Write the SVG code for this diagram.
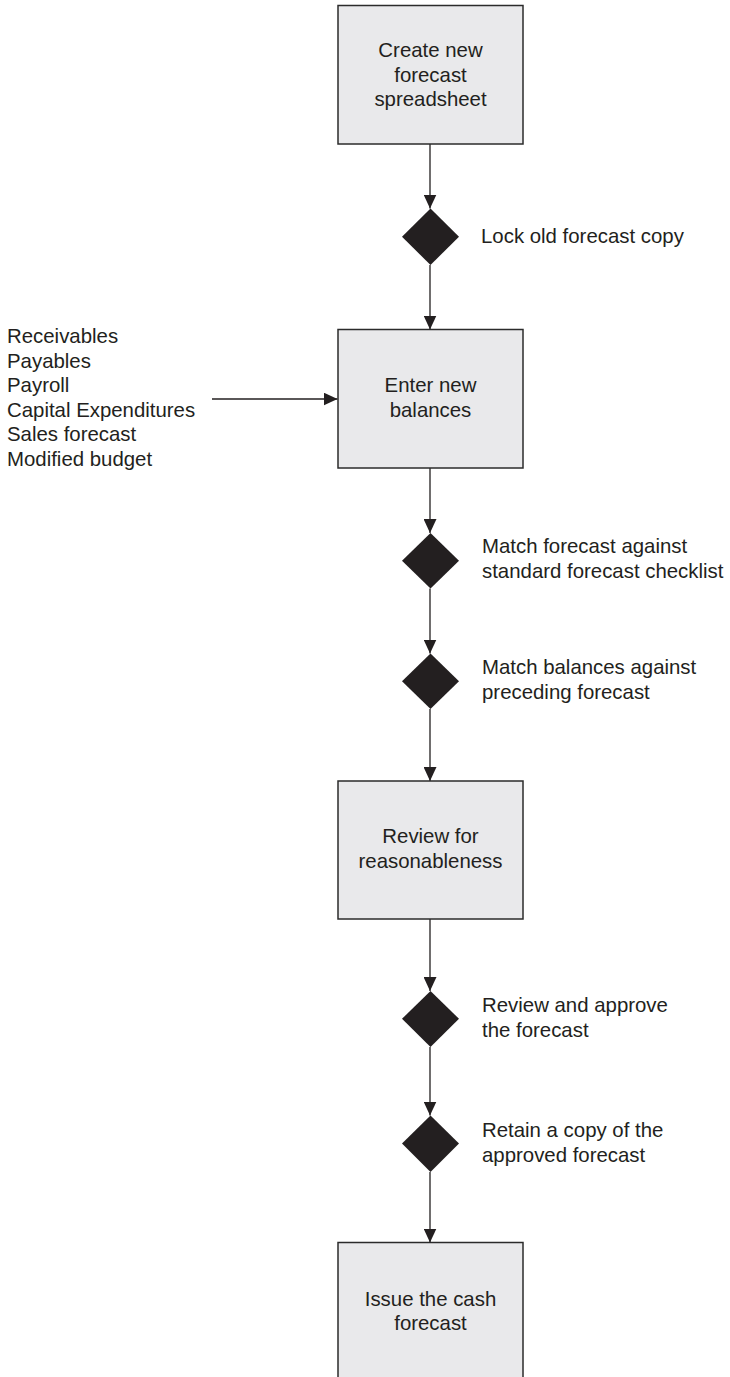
<svg xmlns="http://www.w3.org/2000/svg" width="730" height="1377" viewBox="0 0 730 1377">
<defs>
<style>
.box{fill:#e9e9eb;stroke:#2b2b2b;stroke-width:1.5}
.dia{fill:#231f20;stroke:none}
.t{font-family:"Liberation Sans",Arial,sans-serif;font-size:20.4px;fill:#231f20}
.c{text-anchor:middle}
.ln{stroke:#231f20;stroke-width:1.3;fill:none;marker-end:url(#ah)}
</style>
<marker id="ah" markerUnits="userSpaceOnUse" markerWidth="14" markerHeight="13" viewBox="0 0 14 13" refX="14" refY="6.5" orient="auto">
<path d="M0,0 L14,6.5 L0,13 z" fill="#231f20"/>
</marker>
</defs>
<rect width="730" height="1377" fill="#ffffff"/>
<g id="connectors">
<line class="ln" x1="430" y1="144" x2="430" y2="208.5"/>
<line class="ln" x1="430" y1="265" x2="430" y2="329.5"/>
<line class="ln" x1="212" y1="399" x2="337.5" y2="399"/>
<line class="ln" x1="430" y1="468" x2="430" y2="533"/>
<line class="ln" x1="430" y1="588.5" x2="430" y2="653.5"/>
<line class="ln" x1="430" y1="709" x2="430" y2="781"/>
<line class="ln" x1="430" y1="919" x2="430" y2="991"/>
<line class="ln" x1="430" y1="1047" x2="430" y2="1115.5"/>
<line class="ln" x1="430" y1="1172" x2="430" y2="1242.5"/>
</g>
<g id="box-create">
<rect class="box" x="338" y="5.5" width="185" height="138.5"/>
<text class="t c" x="430.5" y="57">Create new</text>
<text class="t c" x="430.5" y="82">forecast</text>
<text class="t c" x="430.5" y="106">spreadsheet</text>
</g>
<g id="dia-lock">
<polygon class="dia" points="430.5,208.5 459,236.7 430.5,265 402,236.7"/>
<text class="t" x="481" y="243">Lock old forecast copy</text>
</g>
<g id="inputs">
<text class="t" x="7" y="343">Receivables</text>
<text class="t" x="7" y="367.6">Payables</text>
<text class="t" x="7" y="392.2">Payroll</text>
<text class="t" x="7" y="416.8">Capital Expenditures</text>
<text class="t" x="7" y="441.4">Sales forecast</text>
<text class="t" x="7" y="466">Modified budget</text>
</g>
<g id="box-enter">
<rect class="box" x="338" y="329.5" width="185" height="138.5"/>
<text class="t c" x="430.5" y="392">Enter new</text>
<text class="t c" x="430.5" y="417">balances</text>
</g>
<g id="dia-match1">
<polygon class="dia" points="430.5,533 459,560.7 430.5,588.5 402,560.7"/>
<text class="t" x="482" y="553">Match forecast against</text>
<text class="t" x="482" y="578">standard forecast checklist</text>
</g>
<g id="dia-match2">
<polygon class="dia" points="430.5,653.5 459,681.2 430.5,709 402,681.2"/>
<text class="t" x="482" y="674">Match balances against</text>
<text class="t" x="482" y="699">preceding forecast</text>
</g>
<g id="box-review">
<rect class="box" x="338" y="781" width="185" height="138"/>
<text class="t c" x="430.5" y="843">Review for</text>
<text class="t c" x="430.5" y="868">reasonableness</text>
</g>
<g id="dia-approve">
<polygon class="dia" points="430.5,991 459,1018.8 430.5,1047 402,1018.8"/>
<text class="t" x="482" y="1012">Review and approve</text>
<text class="t" x="482" y="1037">the forecast</text>
</g>
<g id="dia-retain">
<polygon class="dia" points="430.5,1115.5 459,1143.5 430.5,1172 402,1143.5"/>
<text class="t" x="482" y="1137">Retain a copy of the</text>
<text class="t" x="482" y="1162">approved forecast</text>
</g>
<g id="box-issue">
<rect class="box" x="338" y="1242.5" width="185" height="150"/>
<text class="t c" x="430.5" y="1306">Issue the cash</text>
<text class="t c" x="430.5" y="1330">forecast</text>
</g>
</svg>
